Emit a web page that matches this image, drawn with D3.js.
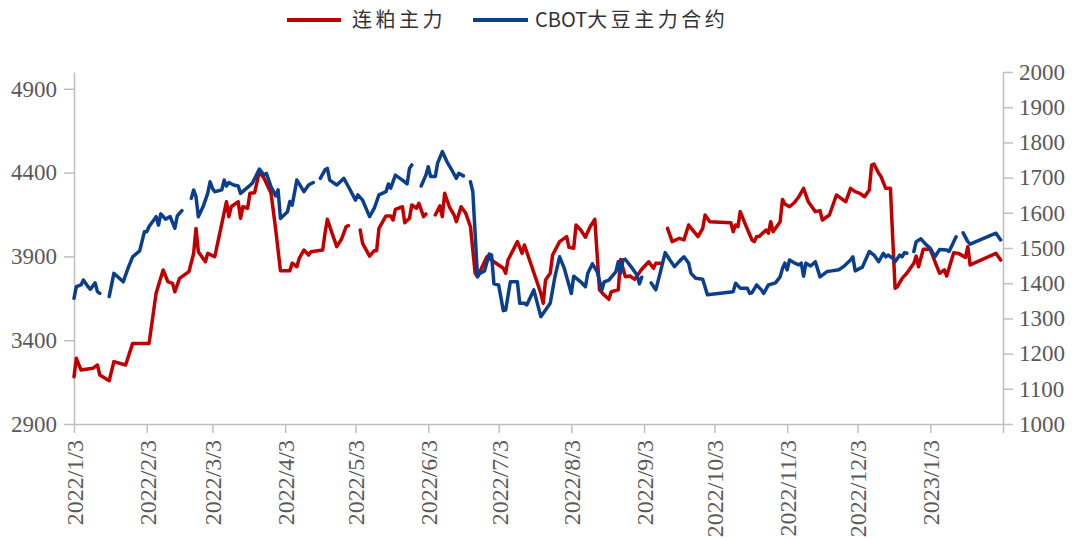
<!DOCTYPE html>
<html><head><meta charset="utf-8">
<script src="https://cdn.jsdelivr.net/npm/d3@7"></script>
<style>body{margin:0;background:#fff}</style>
</head><body><svg id="c" width="1075" height="539"></svg>
<script>
const seriesNames = ["连粕主力", "CBOT大豆主力合约"];
const xTickLabels = ["2022/1/3","2022/2/3","2022/3/3","2022/4/3","2022/5/3","2022/6/3","2022/7/3","2022/8/3","2022/9/3","2022/10/3","2022/11/3","2022/12/3","2023/1/3"];
const xStart = "2022/1/3";
const xEnd = "2023/2/3";
const leftTicks = [2900, 3400, 3900, 4400, 4900];
const rightTicks = [1000, 1100, 1200, 1300, 1400, 1500, 1600, 1700, 1800, 1900, 2000];

// 连粕主力 (left axis); null = gap
const redDates = ["2022/1/3","2022/1/4","2022/1/6","2022/1/11","2022/1/13","2022/1/14","2022/1/18","2022/1/20","2022/1/25","2022/1/28",
"2022/2/4","2022/2/7","2022/2/10","2022/2/12","2022/2/14","2022/2/15","2022/2/17","2022/2/21","2022/2/23","2022/2/24","2022/2/25","2022/2/28",
"2022/3/1","2022/3/4","2022/3/9","2022/3/10","2022/3/11","2022/3/14","2022/3/15","2022/3/16","2022/3/18","2022/3/19","2022/3/21","2022/3/23","2022/3/25","2022/3/28","2022/3/30",
"2022/4/1","2022/4/5","2022/4/6","2022/4/8","2022/4/9","2022/4/11","2022/4/13","2022/4/14","2022/4/19","2022/4/20","2022/4/21","2022/4/23","2022/4/25","2022/4/27","2022/4/29","2022/4/30",
"2022/5/2","2022/5/5","2022/5/6","2022/5/9","2022/5/11","2022/5/12","2022/5/13","2022/5/16","2022/5/18","2022/5/19","2022/5/20","2022/5/23","2022/5/24","2022/5/26","2022/5/27","2022/5/29","2022/5/30",
"2022/6/1","2022/6/2","2022/6/3","2022/6/6","2022/6/8","2022/6/9","2022/6/10","2022/6/12","2022/6/14","2022/6/15","2022/6/17","2022/6/19","2022/6/21","2022/6/23","2022/6/24","2022/6/26","2022/6/28",
"2022/7/1","2022/7/5","2022/7/6","2022/7/7","2022/7/11","2022/7/13","2022/7/14","2022/7/21","2022/7/22","2022/7/23","2022/7/25","2022/7/26","2022/7/29",
"2022/8/1","2022/8/2","2022/8/4","2022/8/5","2022/8/7","2022/8/9","2022/8/11","2022/8/13","2022/8/15","2022/8/17","2022/8/19","2022/8/20","2022/8/23","2022/8/24","2022/8/26","2022/8/28","2022/8/30",
"2022/9/2","2022/9/5","2022/9/7","2022/9/8","2022/9/10","2022/9/11","2022/9/13","2022/9/15","2022/9/18","2022/9/20","2022/9/22","2022/9/26","2022/9/28","2022/9/29",
"2022/10/1","2022/10/10","2022/10/11","2022/10/12","2022/10/13","2022/10/14","2022/10/16","2022/10/19","2022/10/20","2022/10/21","2022/10/22","2022/10/25","2022/10/26","2022/10/27","2022/10/28","2022/10/31",
"2022/11/1","2022/11/2","2022/11/4","2022/11/6","2022/11/8","2022/11/10","2022/11/12","2022/11/14","2022/11/15","2022/11/17","2022/11/18","2022/11/21","2022/11/24","2022/11/26","2022/11/28","2022/11/30",
"2022/12/2","2022/12/4","2022/12/6","2022/12/8","2022/12/9","2022/12/10","2022/12/12","2022/12/13","2022/12/15","2022/12/17","2022/12/19","2022/12/20","2022/12/22","2022/12/24","2022/12/27","2022/12/28","2022/12/29","2022/12/31",
"2023/1/3","2023/1/5","2023/1/7","2023/1/9","2023/1/10","2023/1/13","2023/1/15","2023/1/18","2023/1/19","2023/1/20","2023/1/31","2023/2/2"];
const redValues = [3182,3292,3222,3232,3252,3192,3158,3272,3252,3381,
3381,3680,3819,3749,3739,3689,3769,3809,3918,4067,3928,3868,
3918,3898,4226,4137,4196,4226,4127,4196,4187,4276,4280,4405,4366,4276,4057,
3815,3815,3859,3838,3888,3938,3908,3928,3938,4038,4121,4038,3958,4002,4077,4083,
null,4057,3978,3902,3934,3934,4067,4141,4141,4117,4181,4196,4101,4127,4207,4187,4217,
4137,4153,null,4147,4201,4137,4276,4196,4147,4107,4196,4157,4077,3799,3779,3838,3898,
3868,3829,3799,3878,3988,3918,3968,3680,3620,3759,3799,3908,3988,
4018,3954,3948,4087,4057,4014,4077,4121,3700,3670,3644,3689,3700,3882,3779,3783,3763,
3823,3868,3829,3859,3859,null,4067,3988,4008,3998,4087,4018,4067,4147,
4107,4101,4047,4087,4077,4167,4097,3998,3988,4018,4018,4057,4038,4107,4047,4107,
4240,4213,4196,4220,4256,4306,4226,4187,4167,4173,4117,4147,4266,4246,4226,4306,
4286,4276,4256,4296,4445,4451,4396,4376,4306,4306,3710,3719,3769,3799,3859,3902,3838,3942,
3942,3868,3799,3819,3783,3922,3918,3894,3958,3849,3918,3878];

// CBOT大豆主力合约 (right axis); null = gap
const blueDates = ["2022/1/3","2022/1/4","2022/1/6","2022/1/7","2022/1/9","2022/1/10","2022/1/12","2022/1/13","2022/1/14","2022/1/16","2022/1/18","2022/1/20","2022/1/24","2022/1/26","2022/1/28","2022/1/31",
"2022/2/2","2022/2/3","2022/2/4","2022/2/7","2022/2/8","2022/2/9","2022/2/11","2022/2/13","2022/2/14","2022/2/15","2022/2/16","2022/2/18","2022/2/20","2022/2/22","2022/2/23","2022/2/24","2022/2/25","2022/2/27",
"2022/3/1","2022/3/2","2022/3/3","2022/3/4","2022/3/7","2022/3/8","2022/3/9","2022/3/10","2022/3/12","2022/3/14","2022/3/15","2022/3/18","2022/3/20","2022/3/23","2022/3/25","2022/3/26","2022/3/28","2022/3/30","2022/3/31",
"2022/4/1","2022/4/4","2022/4/5","2022/4/6","2022/4/8","2022/4/9","2022/4/11","2022/4/13","2022/4/15","2022/4/16","2022/4/18","2022/4/20","2022/4/21","2022/4/22","2022/4/25","2022/4/26","2022/4/28","2022/4/30",
"2022/5/3","2022/5/4","2022/5/6","2022/5/9","2022/5/11","2022/5/13","2022/5/16","2022/5/17","2022/5/18","2022/5/20","2022/5/23","2022/5/25","2022/5/26","2022/5/27","2022/5/29","2022/5/31",
"2022/6/2","2022/6/3","2022/6/4","2022/6/6","2022/6/7","2022/6/9","2022/6/11","2022/6/13","2022/6/15","2022/6/16","2022/6/18","2022/6/19","2022/6/21","2022/6/22","2022/6/24","2022/6/25","2022/6/27","2022/6/29","2022/6/30",
"2022/7/1","2022/7/3","2022/7/5","2022/7/6","2022/7/8","2022/7/11","2022/7/12","2022/7/14","2022/7/15","2022/7/18","2022/7/21","2022/7/25","2022/7/27","2022/7/29","2022/7/31",
"2022/8/3","2022/8/4","2022/8/7","2022/8/9","2022/8/10","2022/8/12","2022/8/14","2022/8/16","2022/8/17","2022/8/19","2022/8/22","2022/8/23","2022/8/24","2022/8/25","2022/8/26","2022/8/29","2022/8/31",
"2022/9/1","2022/9/2","2022/9/4","2022/9/6","2022/9/8","2022/9/10","2022/9/12","2022/9/14","2022/9/16","2022/9/18","2022/9/20","2022/9/22","2022/9/23","2022/9/25","2022/9/28","2022/9/30",
"2022/10/11","2022/10/12","2022/10/14","2022/10/17","2022/10/18","2022/10/19","2022/10/21","2022/10/23","2022/10/24","2022/10/26","2022/10/29","2022/10/31",
"2022/11/1","2022/11/2","2022/11/3","2022/11/4","2022/11/6","2022/11/8","2022/11/9","2022/11/10","2022/11/11","2022/11/13","2022/11/15","2022/11/17","2022/11/20","2022/11/22","2022/11/25","2022/11/27","2022/11/30",
"2022/12/1","2022/12/2","2022/12/4","2022/12/5","2022/12/8","2022/12/10","2022/12/12","2022/12/14","2022/12/15","2022/12/16","2022/12/18","2022/12/19","2022/12/21","2022/12/22","2022/12/23","2022/12/24","2022/12/25","2022/12/27","2022/12/28","2022/12/30",
"2023/1/1","2023/1/3","2023/1/5","2023/1/7","2023/1/10","2023/1/11","2023/1/13","2023/1/14","2023/1/15","2023/1/17","2023/1/19","2023/1/20","2023/1/31","2023/2/2"];
const blueValues = [1357,1390,1395,1409,1390,1383,1401,1376,1371,null,1362,1428,1404,1442,1475,1492,
1546,1546,1561,1589,1565,1597,1582,1589,1572,1556,1591,1606,null,1641,1665,1646,1589,1617,
1655,1688,1670,1660,1665,1693,1676,1686,1679,1676,1655,1672,1684,1724,1707,1712,1674,1648,1665,
1584,1603,1632,1622,1693,1682,1660,1679,1686,null,1698,1722,1726,1693,1679,1685,1698,1674,
1636,1651,1636,1589,1613,1651,1660,1682,1670,1707,1693,1682,1726,1736,null,1676,
1707,1731,1703,1703,1741,1774,1745,1722,1698,1712,1705,null,1688,1660,1418,1428,1435,1483,1480,
1398,1395,1322,1324,1404,1404,1343,1343,1338,1381,1305,1343,1418,1475,1442,
1371,1420,1404,1390,1428,1455,1433,1381,1404,1409,1433,1461,1428,1466,1468,1442,1423,
1398,1417,null,1401,1381,1433,1487,1466,1447,1462,1475,1457,1428,1414,1411,1367,
1376,1400,1386,1386,1371,1373,1395,1381,1371,1395,1401,1418,
1442,1457,1438,1466,1458,1452,1457,1420,1457,1449,1461,1418,1433,1435,1438,1447,1466,
1475,1435,1442,1445,1490,1480,1461,1485,1475,1480,1471,1461,1480,1475,1487,1485,null,1490,1518,1526,
1511,1499,1475,1496,1494,1490,1518,1532,null,1543,1518,1511,1542,1523];

const colors = ["#c00000", "#0b3f8d"];
const axisColor = "#bfbfbf";
const labelColor = "#595959";

const parse = d3.timeParse("%Y/%m/%d");
const svg = d3.select("#c");
svg.append("rect").attr("width", 1075).attr("height", 539).attr("fill", "#fff");

const x = d3.scaleTime().domain([parse(xStart), parse(xEnd)]).range([74, 1003]);
const yL = d3.scaleLinear().domain([2900, 5000]).range([424, 72]);
const yR = d3.scaleLinear().domain([1000, 2000]).range([424, 72]);

function styleAxis(g) {
  g.select(".domain").attr("stroke", axisColor).attr("stroke-width", 1.5);
  g.selectAll(".tick line").attr("stroke", axisColor).attr("stroke-width", 1.5);
  g.selectAll(".tick text").attr("fill", labelColor)
    .style("font-family", "'Liberation Serif', 'DejaVu Serif', serif");
}

// left axis
const gL = svg.append("g").attr("transform", "translate(74,0)")
  .call(d3.axisLeft(yL).tickValues(leftTicks).tickSize(10).tickSizeOuter(0).tickPadding(7).tickFormat(d3.format("d")));
styleAxis(gL); gL.selectAll(".tick text").style("font-size", "23px");

// right axis
const gR = svg.append("g").attr("transform", "translate(1003,0)")
  .call(d3.axisRight(yR).tickValues(rightTicks).tickSize(10).tickSizeOuter(0).tickPadding(6).tickFormat(d3.format("d")));
styleAxis(gR); gR.selectAll(".tick text").style("font-size", "23px");

// bottom axis
const xTickDates = xTickLabels.map(parse).concat([parse(xEnd)]);
const labelMap = new Map(xTickLabels.map(s => [+parse(s), s]));
const gX = svg.append("g").attr("transform", "translate(0,424)")
  .call(d3.axisBottom(x).tickValues(xTickDates).tickSize(9).tickSizeOuter(0)
    .tickFormat(d => labelMap.get(+d) || ""));
styleAxis(gX);
gX.selectAll(".tick text")
  .attr("transform", "rotate(-90)")
  .attr("x", -16).attr("y", 0).attr("dy", "0.35em")
  .style("text-anchor", "end").style("font-size", "24px");

// series
const redData = redDates.map((d, i) => ({date: parse(d), v: redValues[i]}));
const blueData = blueDates.map((d, i) => ({date: parse(d), v: blueValues[i]}));

const lineL = d3.line().defined(d => d.v != null).x(d => x(d.date)).y(d => yL(d.v));
const lineR = d3.line().defined(d => d.v != null).x(d => x(d.date)).y(d => yR(d.v));

svg.append("path").datum(redData).attr("d", lineL)
  .attr("fill", "none").attr("stroke", colors[0]).attr("stroke-width", 3.5)
  .attr("stroke-linejoin", "round").attr("stroke-linecap", "round");
svg.append("path").datum(blueData).attr("d", lineR)
  .attr("fill", "none").attr("stroke", colors[1]).attr("stroke-width", 3.5)
  .attr("stroke-linejoin", "round").attr("stroke-linecap", "round");

// legend
const legendItems = [
  {name: seriesNames[0], color: colors[0], x1: 287, x2: 341, tx: 352},
  {name: seriesNames[1], color: colors[1], x1: 473, x2: 528, tx: 535}
];
const lg = svg.append("g");
legendItems.forEach(it => {
  lg.append("line").attr("x1", it.x1).attr("x2", it.x2).attr("y1", 20).attr("y2", 20)
    .attr("stroke", it.color).attr("stroke-width", 4);
  const t = lg.append("text").attr("x", it.tx).attr("y", 27)
    .attr("fill", "#333")
    .style("font-family", "'Noto Sans CJK SC', 'Noto Sans', sans-serif")
    .style("font-size", "20px");
  const runs = it.name.match(/[A-Za-z0-9]+|[^A-Za-z0-9]+/g);
  runs.forEach(r => {
    t.append("tspan").text(r)
      .style("letter-spacing", /[A-Za-z0-9]/.test(r) ? "0px" : "3.5px");
  });
});
</script>
</body></html>
